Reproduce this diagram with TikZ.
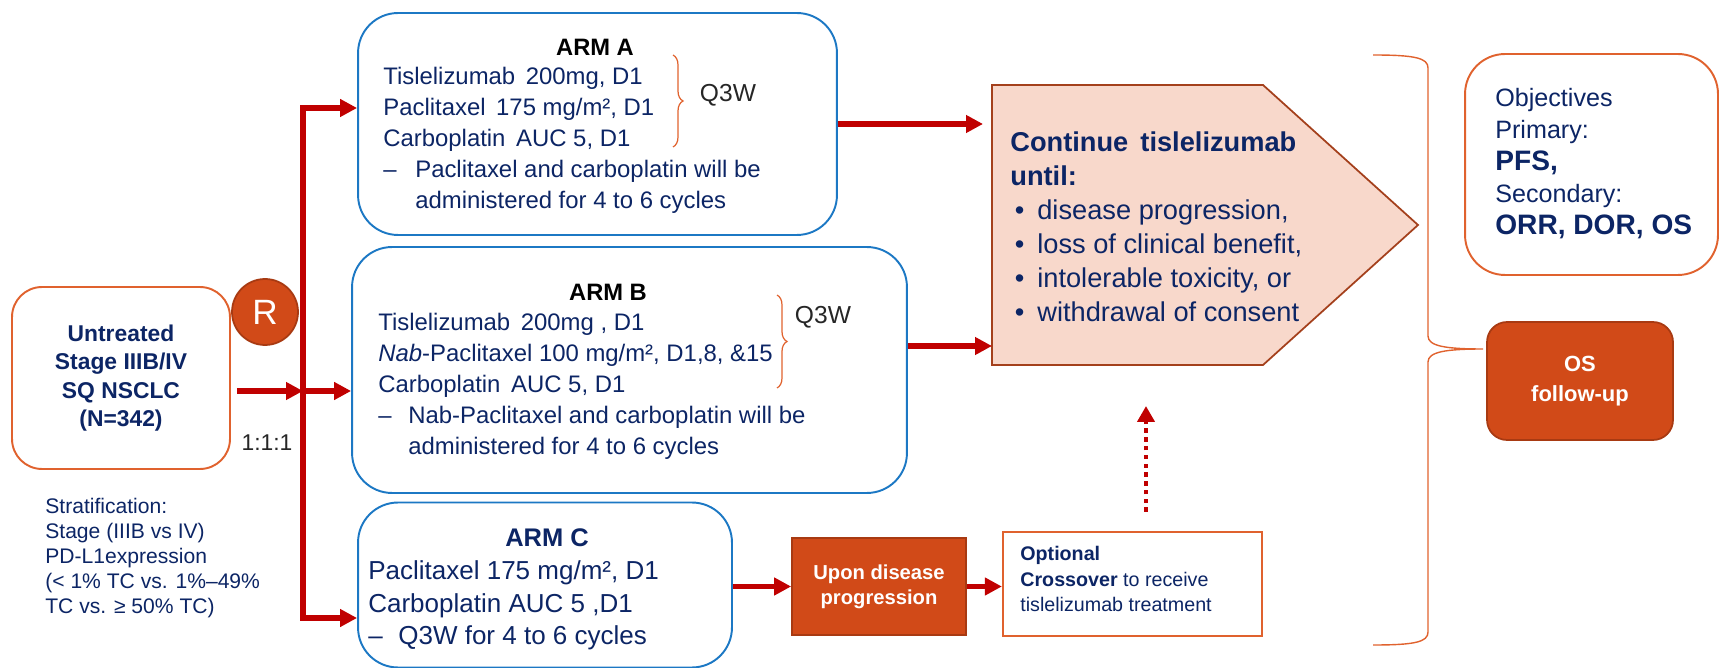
\documentclass[tikz,border=0pt]{standalone}
\usepackage{fontspec}
\setmainfont{Liberation Sans}
\usetikzlibrary{arrows.meta,decorations.pathreplacing,positioning}
\definecolor{navy}{HTML}{0C2565}
\definecolor{armred}{HTML}{C00000}
\definecolor{orangeline}{HTML}{E0622E}
\definecolor{orangefill}{HTML}{D14A18}
\definecolor{orangedark}{HTML}{A83A12}
\definecolor{armblue}{HTML}{1C78C4}
\definecolor{pinkfill}{HTML}{F8D8CB}
\definecolor{pinkline}{HTML}{A4401C}
\begin{document}
\begin{tikzpicture}[x=0.02cm, y=-0.02cm,
  patientbox/.style={rectangle, rounded corners=0.6cm, draw=orangeline, line width=1.1pt, align=center, text=navy, font=\bfseries\fontsize{13}{16.2}\selectfont},
  randbox/.style={circle, fill=orangefill, draw=orangedark, line width=1pt, minimum size=1.32cm, inner sep=0pt, text=white, font=\fontsize{20}{24}\selectfont},
  ratiotext/.style={text=black!85, font=\fontsize{13}{16}\selectfont},
  stratnote/.style={align=left, anchor=west, inner sep=0pt, text=navy, font=\fontsize{12}{14.2}\selectfont},
  armbox/.style={rectangle, rounded corners=0.8cm, draw=armblue, line width=1.1pt},
  armtitle/.style={font=\bfseries\fontsize{13.5}{16}\selectfont},
  armtext/.style={align=left, anchor=west, inner sep=0pt, text=navy, font=\fontsize{13.6}{17.6}\selectfont},
  q3w/.style={text=black!85, font=\fontsize{14}{17}\selectfont},
  smallbrace/.style={draw=orangeline, line width=0.7pt, decorate, decoration={brace, amplitude=0.2cm}},
  progbox/.style={rectangle, fill=orangefill, draw=orangedark, line width=1pt, text=white, align=center, font=\bfseries\fontsize{11.5}{14.2}\selectfont},
  crossbox/.style={rectangle, draw=orangeline, line width=1.3pt, fill=white},
  crosstext/.style={align=left, anchor=west, inner sep=0pt, text=navy, font=\fontsize{11.2}{14.7}\selectfont},
  pentagon/.style={fill=pinkfill, draw=pinkline, line width=1pt},
  contlist/.style={align=left, anchor=west, inner sep=0pt, text=navy, font=\fontsize{15.5}{19.3}\selectfont},
  objbox/.style={rectangle, rounded corners=0.8cm, draw=orangeline, line width=1.1pt},
  objtext/.style={align=left, anchor=west, inner sep=0pt, text=navy, font=\fontsize{14.3}{18.2}\selectfont},
  osbox/.style={rectangle, rounded corners=0.4cm, fill=orangefill, draw=orangedark, line width=1pt, text=white, align=center, font=\bfseries\fontsize{12.5}{17}\selectfont},
  bigbrace/.style={draw=orangeline, line width=0.8pt},
  trunk/.style={draw=armred, line width=3.4pt, line cap=rect},
  redarrow/.style={draw=armred, line width=3pt, -{Triangle[length=0.34cm,width=0.34cm]}},
  dotarrow/.style={draw=armred, line width=2.5pt, dash pattern=on 2.5pt off 2.5pt, -{Triangle[length=0.32cm,width=0.34cm]}}]
  \useasboundingbox (0,0) rectangle (1720,668);

  % Define nodes
  \node (patient) [patientbox, minimum width=4.36cm, minimum height=3.64cm] at (121,378) {Untreated\\Stage IIIB/IV\\SQ NSCLC\\(N=342)};
  \node (rand) [randbox] at (265,312) {R};
  \node (ratio) [ratiotext] at (267,443) {1:1:1};
  \node (strat) [stratnote] at (45,558) {Stratification:\\Stage (IIIB vs IV)\\PD-L1expression\\(< 1\% TC vs. 1\%–49\%\\TC vs. ≥ 50\% TC)};

  \node (armA) [armbox, minimum width=9.58cm, minimum height=4.44cm] at (597.5,124) {};
  \node (armAtitle) [armtitle] at (595,47) {ARM A};
  \node (armAtext) [armtext] at (383,140) {Tislelizumab\, 200mg, D1\\Paclitaxel\, 175 mg/m², D1\\Carboplatin\, AUC 5, D1\\\makebox[0.64cm][l]{–}Paclitaxel and carboplatin will be\\\hspace*{0.64cm}administered for 4 to 6 cycles};
  \node (armAq) [q3w] at (728,95) {Q3W};

  \node (armB) [armbox, minimum width=11.1cm, minimum height=4.92cm] at (629.5,370) {};
  \node (armBtitle) [armtitle] at (608,292) {ARM B};
  \node (armBtext) [armtext] at (378,386.5) {Tislelizumab\, 200mg , D1\\\textit{Nab}-Paclitaxel 100 mg/m², D1,8, \&15\\Carboplatin\, AUC 5, D1\\\makebox[0.6cm][l]{–}Nab-Paclitaxel and carboplatin will be\\\hspace*{0.6cm}administered for 4 to 6 cycles};
  \node (armBq) [q3w] at (823,317) {Q3W};

  \node (armC) [armbox, minimum width=7.48cm, minimum height=3.3cm] at (545,585) {};
  \node (armCtitle) [armtitle, text=navy, font=\bfseries\fontsize{14.5}{17}\selectfont] at (547,538) {ARM C};
  \node (armCtext) [armtext, font=\fontsize{14.8}{18.4}\selectfont] at (368,605.5) {Paclitaxel 175 mg/m², D1\\Carboplatin AUC 5 ,D1\\\makebox[0.6cm][l]{–}Q3W for 4 to 6 cycles};

  \node (upon) [progbox, minimum width=3.48cm, minimum height=1.94cm] at (879,586.5) {Upon disease\\progression};
  \node (opt) [crossbox, minimum width=5.18cm, minimum height=2.08cm] at (1132.5,584) {};
  \node (opttext) [crosstext] at (1020,579) {\textbf{Optional}\\\textbf{Crossover} to receive\\tislelizumab treatment};

  \draw[pentagon] (992,85) -- (1263,85) -- (1418,225) -- (1263,365) -- (992,365) -- cycle;
  \coordinate (contL) at (992,225);
  \coordinate (contB) at (1146,365);
  \node (cont) [contlist] at (1010,227) {\textbf{Continue\, tislelizumab}\\\textbf{until:}\\\makebox[0.54cm][l]{\,•}disease progression,\\\makebox[0.54cm][l]{\,•}loss of clinical benefit,\\\makebox[0.54cm][l]{\,•}intolerable toxicity, or\\\makebox[0.54cm][l]{\,•}withdrawal of consent};

  \node (obj) [objbox, minimum width=5.06cm, minimum height=4.42cm] at (1591.5,164.5) {};
  \node (objtext) [objtext] at (1495,164) {Objectives\\Primary:\\{\bfseries\fontsize{16}{18.2}\selectfont PFS,}\\Secondary:\\{\bfseries\fontsize{16}{18.2}\selectfont ORR, DOR, OS}};
  \node (os) [osbox, minimum width=3.72cm, minimum height=2.36cm] at (1580,381) {OS\\follow-up};

  % Draw braces
  \draw[smallbrace] (673,55) -- (673,147);
  \draw[smallbrace] (777,295) -- (777,388);
  \draw[bigbrace] (1373,55) .. controls (1415,55) and (1428,58) .. (1428,68) -- (1428,336)
    .. controls (1428,346) and (1445,349) .. (1483,349)
    .. controls (1445,349) and (1428,352) .. (1428,362) -- (1428,632)
    .. controls (1428,642) and (1415,645) .. (1373,645);

  % Draw edges
  \coordinate (tA) at (303,108);
  \coordinate (split) at (303,391);
  \coordinate (tC) at (303,618);
  \coordinate (bOut) at ([yshift=0.48cm]armB.east);
  \coordinate (optUp) at ([xshift=0.27cm]opt.north);
  \draw[trunk] (tA) -- (tC);
  \draw[redarrow, shorten <=0.12cm] (patient.east |- split) -- (split);
  \draw[redarrow] (tA) -- (tA -| armA.west);
  \draw[redarrow] (split) -- (split -| armB.west);
  \draw[redarrow] (tC) -- (tC -| armC.west);
  \draw[redarrow, shorten >=0.18cm] (armA.east) -- (armA.east -| contL);
  \draw[redarrow] (bOut) -- (bOut -| contL);
  \draw[redarrow] (armC.east |- upon.west) -- (upon.west);
  \draw[redarrow] (upon.east) -- (upon.east -| opt.west);
  \draw[dotarrow, shorten <=0.38cm, shorten >=0.82cm] (optUp) -- (optUp |- contB);
\end{tikzpicture}
\end{document}
